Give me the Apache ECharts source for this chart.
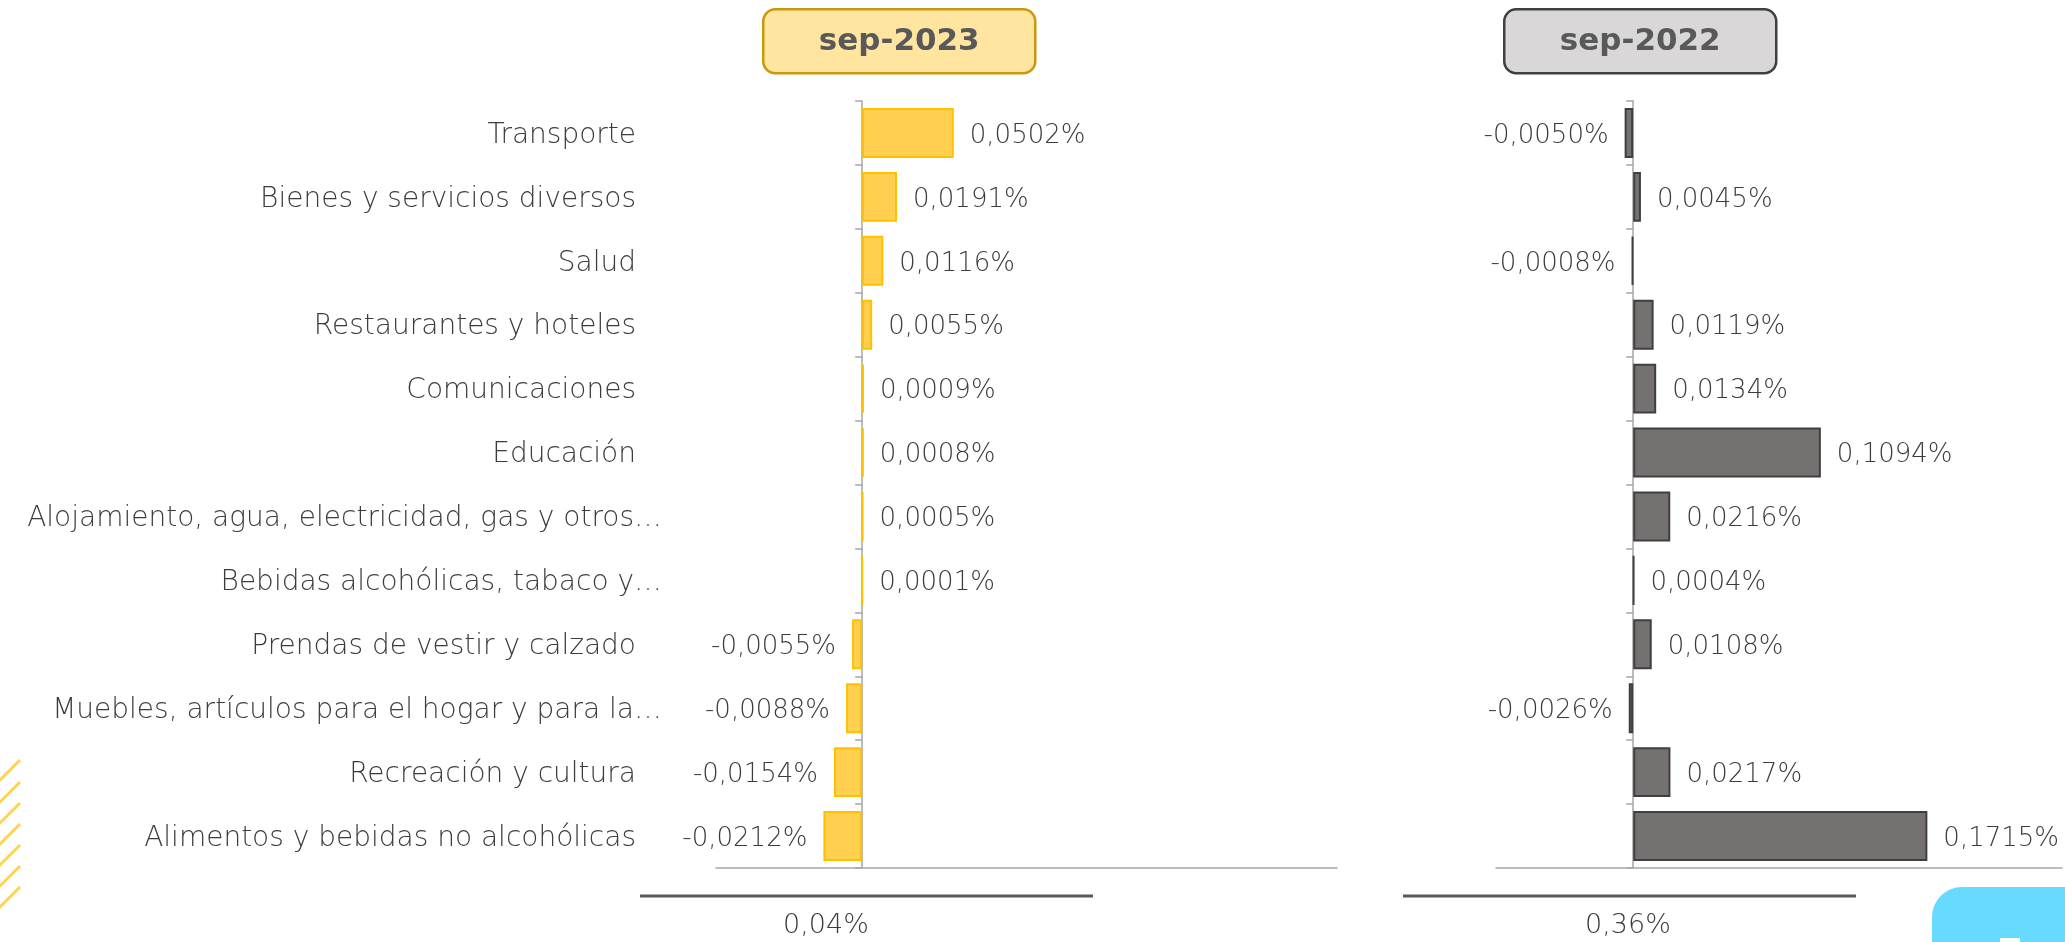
<!DOCTYPE html>
<html>
<head>
<meta charset="utf-8">
<title>Incidencia por división</title>
<script src="https://cdn.jsdelivr.net/npm/echarts@6/dist/echarts.min.js"></script>
<style>
  html, body { margin: 0; padding: 0; background: #fff; }
  #chart { width: 2065px; height: 942px; }
</style>
</head>
<body>
<div id="chart"></div>
<script>
// categorias (de arriba hacia abajo)
var categorias = [
  'Transporte',
  'Bienes y servicios diversos',
  'Salud',
  'Restaurantes y hoteles',
  'Comunicaciones',
  'Educación',
  'Alojamiento, agua, electricidad, gas y otros…',
  'Bebidas alcohólicas, tabaco y…',
  'Prendas de vestir y calzado',
  'Muebles, artículos para el hogar y para la…',
  'Recreación y cultura',
  'Alimentos y bebidas no alcohólicas'
];
var sep2023 = [0.0502, 0.0191, 0.0116, 0.0055, 0.0009, 0.0008, 0.0005, 0.0001, -0.0055, -0.0088, -0.0154, -0.0212];
var sep2022 = [-0.0050, 0.0045, -0.0008, 0.0119, 0.0134, 0.1094, 0.0216, 0.0004, 0.0108, -0.0026, 0.0217, 0.1715];
var titulos = ['sep-2023', 'sep-2022'];
var totales = ['0,04%', '0,36%'];

var gris = '#595959';
var texto = '#3c3c3c';
var fuente = '"DejaVu Sans", sans-serif';
var peso = 200;

function fmt(v) {
  return v.toFixed(4).replace('.', ',') + '%';
}

function barData(arr) {
  return arr.map(function (v) {
    return {
      value: v,
      label: { position: v < 0 ? 'left' : 'right' }
    };
  });
}

function titulo(x, txt, fill, stroke) {
  return {
    type: 'group',
    left: x, top: 8,
    children: [
      { type: 'rect', shape: { x: 0, y: 0, width: 272, height: 64, r: 12 },
        style: { fill: fill, stroke: stroke, lineWidth: 2.5 } },
      { type: 'text', x: 136, y: 33,
        style: { text: txt, fill: gris, font: 'bold 31px ' + fuente, align: 'center', verticalAlign: 'middle' } }
    ]
  };
}

var rayas = [];
[760, 782, 803, 824, 845, 866, 887].forEach(function (y) {
  rayas.push({
    type: 'line',
    shape: { x1: -2, y1: y + 22, x2: 20, y2: y },
    style: { stroke: '#FFD34F', lineWidth: 3 }
  });
});

var myChart = echarts.init(document.getElementById('chart'));
var option = {
  backgroundColor: '#fff',
  animation: false,
  grid: [
    { left: 716, right: 728, top: 101, bottom: 74, outerBoundsMode: 'none', containLabel: false },
    { left: 1496, right: 3, top: 101, bottom: 74, outerBoundsMode: 'none', containLabel: false }
  ],
  xAxis: [0, 1].map(function (i) {
    return {
      type: 'value', gridIndex: i,
      min: -0.08, max: i == 0 ? 0.26 : 0.25,
      axisLine: { show: true, lineStyle: { color: '#a6a6a6', width: 1.5 } },
      axisTick: { show: false },
      axisLabel: { show: false },
      splitLine: { show: false }
    };
  }),
  yAxis: [0, 1].map(function (i) {
    return {
      type: 'category', gridIndex: i,
      data: categorias, inverse: true,
      axisLine: { show: true, onZero: true, lineStyle: { color: '#a6a6a6', width: 1.5 } },
      axisTick: { show: true, length: 7, lineStyle: { color: '#a6a6a6', width: 1.5 } },
      axisLabel: {
        show: i == 0,
        margin: 54,
        color: texto,
        fontFamily: fuente,
        fontWeight: peso,
        fontSize: 28,
        formatter: function (v) {
          return v.slice(-1) == '…' ? '{t|' + v + '}' : '{n|' + v + '}';
        },
        rich: {
          t: { color: texto, fontFamily: fuente, fontWeight: peso, fontSize: 28, padding: [5, 0, 0, 0] },
          n: { color: texto, fontFamily: fuente, fontWeight: peso, fontSize: 28, padding: [5, 26, 0, 0] }
        }
      }
    };
  }),
  series: [
    {
      type: 'bar', xAxisIndex: 0, yAxisIndex: 0,
      data: barData(sep2023),
      barCategoryGap: '22%',
      itemStyle: { color: '#FFD050', borderColor: '#FFC000', borderWidth: 2 },
      label: { show: true, distance: 16, offset: [0, 3], color: texto, fontFamily: fuente, fontWeight: peso, fontSize: 26,
        formatter: function (p) { return fmt(p.value); } }
    },
    {
      type: 'bar', xAxisIndex: 1, yAxisIndex: 1,
      data: barData(sep2022),
      barCategoryGap: '22%',
      itemStyle: { color: '#757170', borderColor: '#3f3f3f', borderWidth: 2 },
      label: { show: true, distance: 16, offset: [0, 3], color: texto, fontFamily: fuente, fontWeight: peso, fontSize: 26,
        formatter: function (p) { return fmt(p.value); } }
    }
  ],
  graphic: [
    titulo(762, titulos[0], '#FFE5A0', '#C9980C'),
    titulo(1503, titulos[1], '#D9D7D8', '#404040'),
    { type: 'line', shape: { x1: 640, y1: 896, x2: 1093, y2: 896 }, style: { stroke: gris, lineWidth: 3 } },
    { type: 'line', shape: { x1: 1403, y1: 896, x2: 1856, y2: 896 }, style: { stroke: gris, lineWidth: 3 } },
    { type: 'text', x: 826, y: 926, style: { text: totales[0], fill: texto, font: peso + ' 27px ' + fuente, align: 'center', verticalAlign: 'middle' } },
    { type: 'text', x: 1628, y: 926, style: { text: totales[1], fill: texto, font: peso + ' 27px ' + fuente, align: 'center', verticalAlign: 'middle' } },
    { type: 'rect', shape: { x: 1932, y: 887, width: 200, height: 120, r: 30 }, style: { fill: '#66DBFF' } },
    { type: 'rect', shape: { x: 2000, y: 938, width: 20, height: 10 }, style: { fill: '#fff' } },
    { type: 'group', children: rayas }
  ]
};
myChart.setOption(option);
</script>
</body>
</html>
